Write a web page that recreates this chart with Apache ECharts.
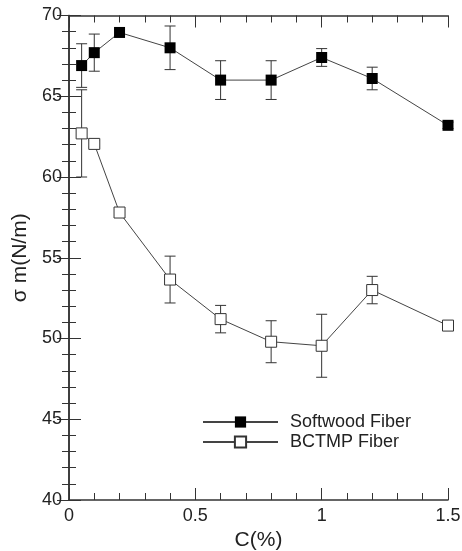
<!DOCTYPE html>
<html>
<head>
<meta charset="utf-8">
<script src="https://cdn.jsdelivr.net/npm/echarts@6/dist/echarts.min.js"></script>
<style>
html, body { margin: 0; padding: 0; background: #fff; }
#chart { width: 462px; height: 551px; }
</style>
</head>
<body>
<div id="chart"></div>
<script>
// concentration C (%)
var concentrations = [0.05, 0.1, 0.2, 0.4, 0.6, 0.8, 1.0, 1.2, 1.5];
// surface tension means and error half-widths (N/m)
var softwoodMean = [66.9, 67.7, 68.95, 68.0, 66.0, 66.0, 67.4, 66.1, 63.2];
var softwoodErr  = [1.35, 1.15, 0.2, 1.35, 1.2, 1.2, 0.55, 0.7, 0.2];
var bctmpMean = [62.7, 62.05, 57.8, 53.65, 51.2, 49.8, 49.55, 53.0, 50.8];
var bctmpErr  = [2.7, 0.2, 0.2, 1.45, 0.85, 1.3, 1.95, 0.85, 0.2];

var seriesNames = ['Softwood Fiber', 'BCTMP Fiber'];
var textFont = 'Liberation Sans, Arial, sans-serif';

function points(means) {
	return concentrations.map(function(c, i) { return [c, means[i]]; });
}
function bars(means, errs) {
	return concentrations.map(function(c, i) { return [c, means[i] - errs[i], means[i] + errs[i]]; });
}

var renderErrorBar = function(params, api) {
	var low = api.coord([api.value(0), api.value(1)]);
	var high = api.coord([api.value(0), api.value(2)]);
	var half = 5.5;
	var style = { stroke: '#333', lineWidth: 1 };
	return {
		type: 'group',
		children: [
			{ type: 'line', shape: { x1: low[0], y1: low[1], x2: high[0], y2: high[1] }, style: style },
			{ type: 'line', shape: { x1: low[0] - half, y1: low[1], x2: low[0] + half, y2: low[1] }, style: style },
			{ type: 'line', shape: { x1: high[0] - half, y1: high[1], x2: high[0] + half, y2: high[1] }, style: style }
		]
	};
};

var axisLine = { show: true, lineStyle: { color: '#333', width: 1.5 } };
var axisTick = { show: true, inside: true, length: 12, lineStyle: { color: '#333', width: 1 } };
var minorTick = { show: true, splitNumber: 5, length: 7, lineStyle: { color: '#333', width: 1 } };
var labelStyle = { color: '#222', fontSize: 18, fontFamily: textFont };
var titleStyle = { color: '#222', fontSize: 21, fontFamily: textFont };

var xBase = { type: 'value', min: 0, max: 1.5, interval: 0.5, axisLine: axisLine, axisTick: axisTick, minorTick: minorTick, splitLine: { show: false } };
var yBase = { type: 'value', min: 40, max: 70, interval: 5, axisLine: axisLine, axisTick: axisTick, minorTick: minorTick, splitLine: { show: false } };

var option = {
	backgroundColor: '#fff',
	animation: false,
	grid: { left: 69, right: 14, top: 15.5, bottom: 51, containLabel: false, outerBoundsMode: 'none' },
	xAxis: [
		Object.assign({}, xBase, {
			position: 'bottom',
			name: 'C(%)', nameLocation: 'middle', nameGap: 29,
			nameTextStyle: titleStyle,
			axisLabel: Object.assign({ margin: 7, formatter: function(v) { return v === 0 ? '0' : String(v); } }, labelStyle)
		}),
		Object.assign({}, xBase, { position: 'top', axisLabel: { show: false } })
	],
	yAxis: [
		Object.assign({}, yBase, {
			position: 'left',
			name: 'σ m(N/m)', nameLocation: 'middle', nameGap: 35, nameRotate: 90,
			nameTextStyle: titleStyle,
			axisLabel: Object.assign({ margin: 7 }, labelStyle)
		}),
		Object.assign({}, yBase, { position: 'right', axisLabel: { show: false } })
	],
	legend: {
		orient: 'vertical',
		left: 197, top: 407,
		itemWidth: 75, itemHeight: 14, itemGap: 0,
		data: seriesNames,
		textStyle: { color: '#222', fontSize: 18, fontFamily: textFont, padding: [0, 0, 0, 7], lineHeight: 20 }
	},
	series: [
		{
			type: 'custom', renderItem: renderErrorBar, silent: true, z: 1,
			data: bars(softwoodMean, softwoodErr)
		},
		{
			type: 'custom', renderItem: renderErrorBar, silent: true, z: 1,
			data: bars(bctmpMean, bctmpErr)
		},
		{
			name: seriesNames[0], type: 'line', z: 3,
			symbol: 'rect', symbolSize: 11,
			itemStyle: { color: '#000', borderColor: '#000', borderWidth: 0 },
			lineStyle: { color: '#444', width: 1 },
			data: points(softwoodMean)
		},
		{
			name: seriesNames[1], type: 'line', z: 3,
			symbol: 'rect', symbolSize: 11,
			itemStyle: { color: '#fff', borderColor: '#333', borderWidth: 1 },
			lineStyle: { color: '#444', width: 1 },
			data: points(bctmpMean)
		}
	]
};

var chart = echarts.init(document.getElementById('chart'));
chart.setOption(option);
</script>
</body>
</html>
